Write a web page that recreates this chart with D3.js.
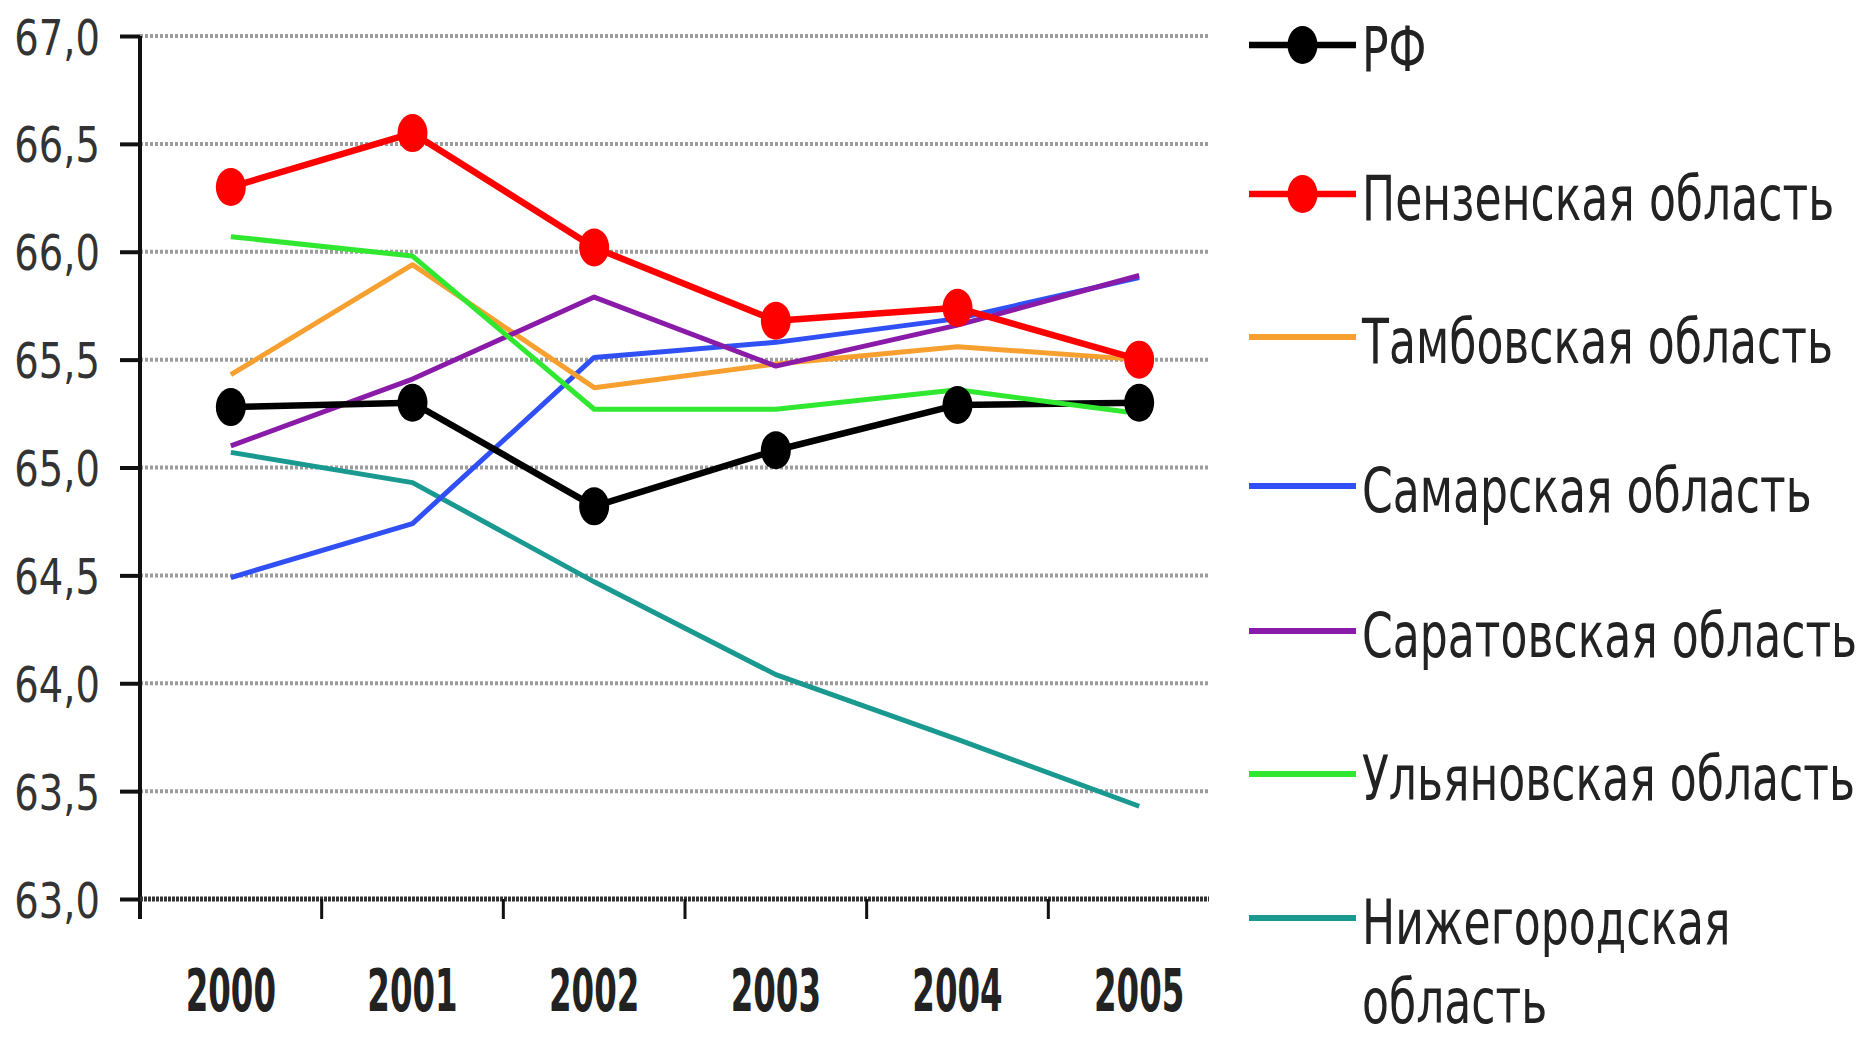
<!DOCTYPE html>
<html>
<head>
<meta charset="utf-8">
<script src="https://cdn.jsdelivr.net/npm/d3@7"></script>
<style>
  body { margin: 0; background: #fff; }
  text { font-family: "DejaVu Sans", "Liberation Sans", sans-serif; }
</style>
</head>
<body>
<div id="chart"></div>
<script>
const years = ["2000", "2001", "2002", "2003", "2004", "2005"];
const yTicks = [63.0, 63.5, 64.0, 64.5, 65.0, 65.5, 66.0, 66.5, 67.0];

const names = [
  "РФ",
  "Пензенская область",
  "Тамбовская область",
  "Самарская область",
  "Саратовская область",
  "Ульяновская область",
  "Нижегородская область",
];
const colors = ["#000000", "#ff0000", "#f7a030", "#3050f5", "#8a1aa8", "#30e830", "#1a9990"];
const withMarkers = [true, true, false, false, false, false, false];

const rf = [65.28, 65.3, 64.82, 65.08, 65.29, 65.3];
const penza = [66.3, 66.55, 66.02, 65.68, 65.74, 65.5];
const tambov = [65.43, 65.94, 65.37, 65.48, 65.56, 65.5];
const samara = [64.49, 64.74, 65.51, 65.58, 65.69, 65.88];
const saratov = [65.1, 65.41, 65.79, 65.47, 65.66, 65.89];
const ulyanovsk = [66.07, 65.98, 65.27, 65.27, 65.36, 65.25];
const nizhny = [65.07, 64.93, 64.47, 64.04, 63.74, 63.43];
const series = [rf, penza, tambov, samara, saratov, ulyanovsk, nizhny];

const width = 1874, height = 1040;
const m = { left: 140, right: 1230, top: 36, bottom: 899, gridEnd: 1209 };

// the source uses a narrow font, so squeeze the glyphs horizontally
const condense = (sel, f) => sel.each(function () {
  const w = this.getComputedTextLength();
  this.setAttribute("textLength", w * f);
  this.setAttribute("lengthAdjust", "spacingAndGlyphs");
});

const svg = d3.select("#chart").append("svg")
  .attr("width", width).attr("height", height);

const x = d3.scaleBand().domain(years).range([m.left, m.right]);
const y = d3.scaleLinear().domain([63, 67]).range([m.bottom, m.top]);

// dotted grid lines
svg.append("g").selectAll("line").data(yTicks.slice(1)).join("line")
  .attr("x1", m.left).attr("x2", m.gridEnd)
  .attr("y1", d => y(d)).attr("y2", d => y(d))
  .attr("stroke", "#9c9c9c").attr("stroke-width", 4)
  .attr("stroke-dasharray", "3,2");

// y axis
const yAxis = svg.append("g")
  .attr("transform", `translate(${m.left},0)`)
  .call(d3.axisLeft(y).tickValues(yTicks).tickSize(20).tickPadding(20)
    .tickFormat(d => d3.format(".1f")(d).replace(".", ",")));
yAxis.select(".domain").attr("stroke", "#111").attr("stroke-width", 4)
  .attr("d", `M0,${m.top}V${m.bottom + 20}`);
yAxis.selectAll(".tick line").attr("stroke", "#111").attr("stroke-width", 4);
yAxis.selectAll(".tick text")
  .attr("fill", "#333").attr("dy", "0.36em").style("font-size", "50px")
  .call(condense, 0.77);

// x axis
const xAxis = svg.append("g")
  .attr("transform", `translate(0,${m.bottom})`)
  .call(d3.axisBottom(x).tickSize(0).tickPadding(70));
xAxis.select(".domain").attr("stroke", "#333").attr("stroke-width", 5)
  .attr("stroke-dasharray", "3,1")
  .attr("d", `M${m.left},0H${m.gridEnd}`);
xAxis.selectAll(".tick text")
  .attr("fill", "#222").attr("dy", "0.36em")
  .style("font-size", "58px").style("font-weight", "bold")
  .call(condense, 0.56);
xAxis.selectAll(".tick text").attr("y", 91);
svg.append("g").selectAll("line").data(years.slice(1)).join("line")
  .attr("x1", d => x(d)).attr("x2", d => x(d))
  .attr("y1", m.bottom).attr("y2", m.bottom + 20)
  .attr("stroke", "#111").attr("stroke-width", 3);

// lines
const line = d3.line().x((d, i) => x(years[i]) + x.bandwidth() / 2).y(d => y(d));
const order = [6, 3, 2, 4, 0, 5, 1];
order.forEach(k => {
  svg.append("path").datum(series[k])
    .attr("fill", "none").attr("stroke", colors[k])
    .attr("stroke-width", k < 2 ? 6.5 : 5)
    .attr("stroke-linejoin", "round")
    .attr("d", line);
});
[0, 1].forEach(k => {
  svg.append("g").selectAll("ellipse").data(series[k]).join("ellipse")
    .attr("cx", (d, i) => x(years[i]) + x.bandwidth() / 2)
    .attr("cy", d => y(d))
    .attr("rx", 15).attr("ry", 19)
    .attr("fill", colors[k]);
});

// legend
const legendY = [45, 194, 337, 486, 631, 774, 918];
const lx1 = 1249, lx2 = 1356;
const legend = svg.append("g").selectAll("g").data(names).join("g")
  .attr("transform", (d, i) => `translate(0,${legendY[i]})`);
legend.append("line")
  .attr("x1", lx1).attr("x2", lx2)
  .attr("stroke", (d, i) => colors[i])
  .attr("stroke-width", (d, i) => i < 2 ? 6.5 : 6);
legend.filter((d, i) => withMarkers[i]).append("ellipse")
  .attr("cx", (lx1 + lx2) / 2).attr("rx", 15).attr("ry", 19)
  .attr("fill", (d, i) => colors[i]);
legend.append("g")
  .attr("transform", "translate(1362,0) scale(0.7,1)")
  .append("text")
  .attr("fill", "#222").style("font-size", "63px")
  .each(function (d) {
    const parts = d === "Нижегородская область" ? ["Нижегородская", "область"] : [d];
    const t = d3.select(this);
    parts.forEach((p, j) => {
      t.append("tspan").attr("x", 0).attr("dy", j === 0 ? "0.42em" : "1.24em").text(p);
    });
  });
</script>
</body>
</html>
